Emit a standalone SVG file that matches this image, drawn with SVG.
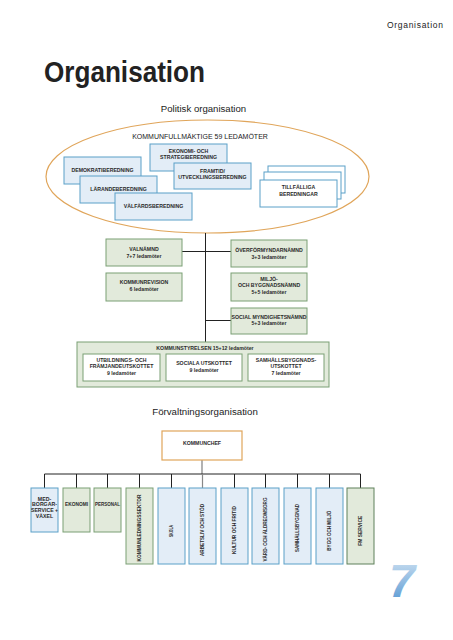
<svg xmlns="http://www.w3.org/2000/svg" width="453" height="640" viewBox="0 0 453 640">
<defs>
<linearGradient id="hdr" x1="0" y1="0" x2="1" y2="0">
<stop offset="0" stop-color="#2a7fb0"/>
<stop offset="0.6" stop-color="#7fb4d6"/>
<stop offset="1" stop-color="#e4eff7"/>
</linearGradient>
<linearGradient id="g7" x1="0" y1="0" x2="0" y2="1">
<stop offset="0" stop-color="#d6e6f4"/>
<stop offset="1" stop-color="#4f93d0"/>
</linearGradient>
<style>
.t{font-family:"Liberation Sans",Arial,sans-serif;fill:#222;}
.l{font-family:"Liberation Sans",Arial,sans-serif;font-size:5.2px;font-weight:bold;fill:#2a2a2a;text-anchor:middle;}
.v{font-family:"Liberation Sans",Arial,sans-serif;font-size:5px;font-weight:bold;fill:#2a2a2a;text-anchor:middle;}
.blue{fill:#e3edf7;stroke:#5aa0c8;stroke-width:1;}
.wblue{fill:#ffffff;stroke:#5aa0c8;stroke-width:1;}
.green{fill:#e2eadb;stroke:#7a9f74;stroke-width:1;}
.wgreen{fill:#ffffff;stroke:#7a9f74;stroke-width:1;}
.orange{fill:#ffffff;stroke:#e0a55a;stroke-width:1.2;}
.ln{stroke:#222;stroke-width:1;fill:none;}
</style>
</defs>
<rect width="453" height="640" fill="#ffffff"/>

<g id="header">
<line x1="0" y1="28.5" x2="383" y2="28.5" stroke="url(#hdr)" stroke-width="1.5"/>
<text class="t" x="387" y="28.3" font-size="8.5" letter-spacing="0.7" fill="#333">Organisation</text>
<text class="t" x="44" y="82" font-size="29" font-weight="bold" fill="#111" textLength="161" lengthAdjust="spacingAndGlyphs">Organisation</text>
</g>

<text class="t" x="203.5" y="112" font-size="9.6" text-anchor="middle">Politisk organisation</text>

<g id="kommunfullmaktige">
<ellipse cx="207.5" cy="176.5" rx="161.5" ry="56.5" fill="none" stroke="#e0a55a" stroke-width="1.2"/>
<text class="t" x="200" y="139" font-size="7" text-anchor="middle">KOMMUNFULLMÄKTIGE 59 LEDAMÖTER</text>
</g>

<g id="demokratiberedning">
<rect class="blue" x="64" y="157" width="77" height="27"/>
<text class="l" x="102.5" y="171.5">DEMOKRATIBEREDNING</text>
</g>
<g id="larandeberedning">
<rect class="blue" x="80" y="176" width="77" height="27"/>
<text class="l" x="118.5" y="190.5">LÄRANDEBEREDNING</text>
</g>
<g id="valfardsberedning">
<rect class="blue" x="115" y="193" width="77" height="27"/>
<text class="l" x="153.5" y="207.5">VÄLFÄRDSBEREDNING</text>
</g>
<g id="ekonomiberedning">
<rect class="blue" x="150" y="144" width="77" height="27"/>
<text class="l" x="188.5" y="153">EKONOMI- OCH</text>
<text class="l" x="188.5" y="159.3">STRATEGIBEREDNING</text>
</g>
<g id="framtidberedning">
<rect class="blue" x="174" y="163" width="77" height="26"/>
<text class="l" x="212.5" y="172.7">FRAMTID/</text>
<text class="l" x="212.5" y="178.8">UTVECKLINGSBEREDNING</text>
</g>
<g id="tillfalliga">
<rect class="wblue" x="268" y="166" width="77" height="27"/>
<rect class="wblue" x="264" y="172" width="77" height="27"/>
<rect class="wblue" x="260" y="180" width="77" height="27"/>
<text class="l" x="298.5" y="189">TILLFÄLLIGA</text>
<text class="l" x="298.5" y="195.5">BEREDNINGAR</text>
</g>

<g id="connectors">
<line class="ln" x1="205.5" y1="233" x2="205.5" y2="342"/>
<line class="ln" x1="182" y1="251.5" x2="231" y2="251.5"/>
<line class="ln" x1="205.5" y1="320.5" x2="231" y2="320.5"/>
<line x1="202" y1="460" x2="202" y2="474" stroke="#888" stroke-width="1.3"/>
<line class="ln" x1="44.5" y1="474" x2="360.5" y2="474"/>
<path class="ln" d="M44.5 474V488M76.5 474V488M107.5 474V488M139.5 474V488M171.5 474V488M234.5 474V488M265.5 474V488M297.5 474V488M329.5 474V488M360.5 474V488"/>
<line x1="202.5" y1="474" x2="202.5" y2="488" stroke="#888" stroke-width="1.2"/>
</g>

<g id="valnamnd">
<rect class="green" x="106" y="239" width="76" height="27"/>
<text class="l" x="144" y="250.5">VALNÄMND</text>
<text class="l" x="144" y="257.5">7+7 ledamöter</text>
</g>
<g id="overformyndarnamnd">
<rect class="green" x="231" y="240" width="76" height="27"/>
<text class="l" x="269" y="251.5">ÖVERFÖRMYNDARNÄMND</text>
<text class="l" x="269" y="258.5">3+3 ledamöter</text>
</g>
<g id="kommunrevision">
<rect class="green" x="106" y="273" width="76" height="28"/>
<text class="l" x="144" y="284">KOMMUNREVISION</text>
<text class="l" x="144" y="291">6 ledamöter</text>
</g>
<g id="miljonamnd">
<rect class="green" x="231" y="273" width="76" height="28"/>
<text class="l" x="269" y="280.5">MILJÖ-</text>
<text class="l" x="269" y="287.3">OCH BYGGNADSNÄMND</text>
<text class="l" x="269" y="294.2">5+5 ledamöter</text>
</g>
<g id="socialmyndighetsnamnd">
<rect class="green" x="231" y="308" width="76" height="26"/>
<text class="l" x="269" y="318.5">SOCIAL MYNDIGHETSNÄMND</text>
<text class="l" x="269" y="325.3">5+3 ledamöter</text>
</g>

<g id="kommunstyrelsen">
<rect class="green" x="77" y="342" width="252" height="45"/>
<text class="l" x="205" y="350.3">KOMMUNSTYRELSEN 15+12 ledamöter</text>
</g>
<g id="utbildningsutskottet">
<rect class="wgreen" x="83" y="354" width="77" height="27"/>
<text class="l" x="121.5" y="361.8">UTBILDNINGS- OCH</text>
<text class="l" x="121.5" y="368.4">FRÄMJANDEUTSKOTTET</text>
<text class="l" x="121.5" y="375">9 ledamöter</text>
</g>
<g id="socialautskottet">
<rect class="wgreen" x="166" y="354" width="76" height="27"/>
<text class="l" x="204" y="365">SOCIALA UTSKOTTET</text>
<text class="l" x="204" y="371.5">9 ledamöter</text>
</g>
<g id="samhallsbyggnadsutskottet">
<rect class="wgreen" x="248" y="354" width="76" height="27"/>
<text class="l" x="286" y="361.8">SAMHÄLLSBYGGNADS-</text>
<text class="l" x="286" y="368.4">UTSKOTTET</text>
<text class="l" x="286" y="375">7 ledamöter</text>
</g>

<text class="t" x="205" y="415" font-size="9.7" text-anchor="middle">Förvaltningsorganisation</text>

<g id="kommunchef">
<rect class="orange" x="162" y="431" width="80" height="29"/>
<text class="l" x="202" y="444.5" font-size="4.8">KOMMUNCHEF</text>
</g>

<g id="medborgarservice">
<rect class="blue" x="31" y="488" width="27" height="44"/>
<text class="l" x="44.5" y="500.7" font-size="5">MED-</text>
<text class="l" x="44.5" y="506.4" font-size="5">BORGAR-</text>
<text class="l" x="44.5" y="512.1" font-size="5">SERVICE +</text>
<text class="l" x="44.5" y="518.3" font-size="5">VÄXEL</text>
</g>
<g id="ekonomi">
<rect class="green" x="63" y="488" width="27" height="44"/>
<text class="l" x="76.5" y="505.7" font-size="5" textLength="23" lengthAdjust="spacingAndGlyphs">EKONOMI</text>
</g>
<g id="personal">
<rect class="green" x="94" y="488" width="27" height="44"/>
<text class="l" x="107.5" y="505.7" font-size="5" textLength="25" lengthAdjust="spacingAndGlyphs">PERSONAL</text>
</g>
<g id="kommunledningssektor">
<rect class="green" x="126" y="488" width="27" height="76"/>
<text class="v" transform="translate(141.3 528) rotate(-90)" textLength="67" lengthAdjust="spacingAndGlyphs">KOMMUNLEDNINGSSEKTOR</text>
</g>
<g id="skola">
<rect class="blue" x="158" y="488" width="27" height="76"/>
<text class="v" transform="translate(173.3 531) rotate(-90)" textLength="12" lengthAdjust="spacingAndGlyphs">SKOLA</text>
</g>
<g id="arbetsliv">
<rect class="blue" x="189" y="488" width="27" height="76"/>
<text class="v" transform="translate(204.3 530) rotate(-90)" textLength="52" lengthAdjust="spacingAndGlyphs">ARBETSLIV OCH STÖD</text>
</g>
<g id="kultur">
<rect class="blue" x="221" y="488" width="27" height="76"/>
<text class="v" transform="translate(236.3 530) rotate(-90)" textLength="48" lengthAdjust="spacingAndGlyphs">KULTUR OCH FRITID</text>
</g>
<g id="vard">
<rect class="blue" x="252" y="488" width="27" height="76"/>
<text class="v" transform="translate(267.3 529.5) rotate(-90)" textLength="64" lengthAdjust="spacingAndGlyphs">VÅRD- OCH ÄLDREOMSORG</text>
</g>
<g id="samhallsbyggnad">
<rect class="blue" x="284" y="488" width="27" height="76"/>
<text class="v" transform="translate(299.3 528) rotate(-90)" textLength="48" lengthAdjust="spacingAndGlyphs">SAMHÄLLSBYGGNAD</text>
</g>
<g id="byggmiljo">
<rect class="blue" x="316" y="488" width="27" height="76"/>
<text class="v" transform="translate(331.3 530.7) rotate(-90)" textLength="40" lengthAdjust="spacingAndGlyphs">BYGG OCH MILJÖ</text>
</g>
<g id="fmservice">
<rect x="347" y="488" width="27" height="76" fill="#e2eadb" stroke="#5e805a" stroke-width="1"/>
<text class="v" transform="translate(362.3 530.7) rotate(-90)" textLength="30" lengthAdjust="spacingAndGlyphs">FM SERVICE</text>
</g>

<text x="389" y="597" font-family="Liberation Sans,Arial,sans-serif" font-size="47" font-weight="bold" font-style="italic" fill="url(#g7)">7</text>
</svg>
